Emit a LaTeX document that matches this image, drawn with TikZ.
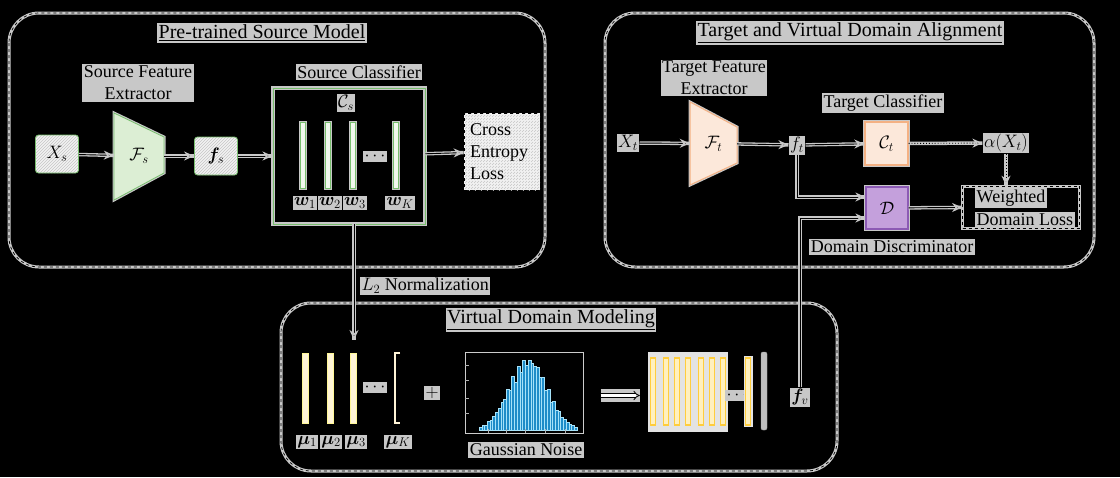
\RequirePackage{fix-cm}
\documentclass[tikz,border=0pt]{standalone}
\usepackage{fontspec}
\setmainfont{Liberation Serif}
\usepackage{bm}
\usetikzlibrary{arrows.meta,patterns,calc}
\definecolor{halo}{RGB}{200,200,200}
\definecolor{srcgreen}{RGB}{120,190,110}
\definecolor{srcfill}{RGB}{220,238,212}
\definecolor{tgtorange}{RGB}{244,177,131}
\definecolor{tgtfill}{RGB}{252,232,218}
\definecolor{dpurple}{RGB}{140,90,180}
\definecolor{dfill}{RGB}{196,160,220}
\definecolor{creambar}{RGB}{255,244,214}
\definecolor{yelbar}{RGB}{255,205,60}
\definecolor{yelfill}{RGB}{255,240,190}
\definecolor{histblue}{RGB}{30,140,200}
\tikzset{
  lbl/.style={fill=halo, inner sep=1.5pt, text=black, font=\fontsize{18}{22}\selectfont},
  ttl/.style={lbl, font=\fontsize{20}{24}\selectfont},
  region/.style={draw=black, dashed, line width=0.7pt, rounded corners=30pt,
     preaction={draw=halo, solid, line width=3pt}},
  arr/.style={-{Stealth[length=10pt,width=9pt,color=halo,fill=black,line width=1.5pt]}, line width=0.9pt, draw=black,
     preaction={draw=halo, solid, line width=3.5pt, -}},
  hatchbox/.style={preaction={fill=gray!10}, pattern=north east lines, pattern color=gray!45,
     font=\fontsize{18}{22}\selectfont},
  wbar/.style={draw=srcgreen, fill=srcfill!40!white, line width=1pt, preaction={draw=halo, line width=3pt}},
  mubar/.style={draw=creambar!70!yellow, fill=creambar, line width=0.8pt},
  ybar/.style={draw=yelbar, fill=yelfill, line width=1.2pt},
  mathlbl/.style={font=\fontsize{18}{22}\selectfont},
}
\begin{document}
\begin{tikzpicture}[x=1pt,y=-1pt]
\fill[black] (0,0) rectangle (1120,477);
\useasboundingbox (0,0) rectangle (1120,477);

% regions
\draw[region] (9,13) rectangle (545,267);
\draw[region] (605,13) rectangle (1094,267);
\draw[region] (281,303) rectangle (837,471);

\node[ttl] (t1) at (262,33) {\underline{Pre-trained Source Model}};
\node[ttl] (t2) at (850,33) {\underline{Target and Virtual Domain Alignment}};
\node[ttl] (t3) at (551,320) {\underline{Virtual Domain Modeling}};

% ---------------- source ----------------
\node[lbl, align=center] (sfe) at (138,83) {Source Feature\\Extractor};
\node[draw=srcgreen, line width=0.8pt, rounded corners=3pt, minimum width=43, minimum height=38, hatchbox] (Xs) at (57,154) {$X_s$};
\filldraw[draw=srcgreen, fill=srcfill, line width=0.8pt, preaction={draw=halo, line width=3pt}] (114,113) -- (164,137) -- (164,173) -- (114,200) -- cycle;
\node[mathlbl, minimum width=50, minimum height=36, inner sep=0] (Fs) at (139,156) {$\mathcal{F}_s$};
\node[draw=srcgreen, line width=0.8pt, rounded corners=3pt, minimum width=43, minimum height=38, hatchbox] (fs) at (216,156) {$\bm{f}_s$};
\node[lbl] (scl) at (359,72) {Source Classifier};
\node[draw=srcgreen, line width=0.9pt, minimum width=152, minimum height=136, inner sep=0, preaction={draw=halo, line width=4pt}] (cls) at (349,156) {};
\node[lbl] (Cs) at (346,103) {$\mathcal{C}_s$};
\foreach \x in {303,328,353,396} {\filldraw[wbar] (\x-2.5,122) rectangle (\x+2.5,188);}
\node[lbl] (cdots) at (375,156) {$\cdots$};
\node[lbl] (w1) at (305,203) {$\bm{w}_1$};
\node[lbl] (w2) at (330,203) {$\bm{w}_2$};
\node[lbl] (w3) at (355,203) {$\bm{w}_3$};
\node[lbl] (wK) at (400,203) {$\bm{w}_K$};
\node[draw=black, dashed, line width=0.7pt, minimum width=76, minimum height=77, align=left, text width=64, hatchbox] (cel) at (502,151.5) {Cross\\Entropy\\Loss};

\draw[arr] (Xs) -- (Fs);
\draw[arr] (Fs) -- (fs);
\draw[arr] (fs) -- (cls);
\draw[arr] (cls) -- (cel);

\coordinate (l2end) at (354,340);
\draw[arr] (cls.south -| l2end) -- (l2end);
\node[lbl, anchor=west] (l2) at (360,286) {$L_2$ Normalization};

% ---------------- target ----------------
\node[lbl, align=center] (tfe) at (714,78) {Target Feature\\Extractor};
\node[lbl] (Xt) at (628,143) {$X_t$};
\filldraw[draw=tgtorange, fill=tgtfill, line width=1pt, preaction={draw=halo, line width=3pt}] (690,102) -- (737,127) -- (737,163) -- (690,185) -- cycle;
\node[mathlbl, minimum width=47, minimum height=36, inner sep=0] (Ft) at (713.5,143.5) {$\mathcal{F}_t$};
\node[lbl] (ft) at (797,145) {$f_t$};
\node[lbl] (tcl) at (883,103) {Target Classifier};
\node[draw=tgtorange, fill=tgtfill, line width=1.2pt, minimum size=43, inner sep=0, mathlbl, preaction={draw=halo, line width=4pt}] (Ct) at (886.5,143.5) {$\mathcal{C}_t$};
\node[lbl] (alpha) at (1006,143) {$\alpha(X_t)$};
\node[draw=dpurple, fill=dfill, line width=1.2pt, minimum size=42, inner sep=0, mathlbl, preaction={draw=halo, line width=4pt}] (D) at (887,208) {$\mathcal{D}$};
\node[draw=black, dashed, line width=0.7pt, minimum width=117, minimum height=42, inner sep=0, preaction={draw=halo, solid, line width=3pt}] (wdl) at (1021,207) {};
\node[lbl, anchor=west] (wdl1) at (975,198) {Weighted};
\node[lbl, anchor=west] (wdl2) at (975,220) {Domain Loss};
\node[lbl] (ddl) at (892,247) {Domain Discriminator};

\draw[arr] (Xt) -- (Ft);
\draw[arr] (Ft) -- (ft);
\draw[arr] (ft) -- (Ct);
\draw[arr, dotted] (Ct) -- (alpha);
\draw[arr, dotted] (alpha.south) -- (alpha.south |- wdl.north);
\draw[arr] (D) -- (wdl);
\draw[arr] (ft.south) |- ([yshift=11pt]D.west);

% ---------------- virtual ----------------
\foreach \x in {305,330,353} {\filldraw[mubar] (\x-3,353) rectangle (\x+3,423);}
\draw[creambar, line width=2.5pt] (400,353) -- (395,353) -- (395,423) -- (400,423);
\node[lbl] (mdots) at (375,387) {$\cdots$};
\node[lbl] (mu1) at (307,442) {$\bm{\mu}_1$};
\node[lbl] (mu2) at (331,442) {$\bm{\mu}_2$};
\node[lbl] (mu3) at (356,442) {$\bm{\mu}_3$};
\node[lbl] (muK) at (398,442) {$\bm{\mu}_K$};
\node[lbl] (plus) at (432,393) {$+$};

\node[draw=gray!40, line width=1pt, minimum width=118, minimum height=81, inner sep=0] (gauss) at (524,392.5) {};
\foreach \i in {0,...,35} {
  \pgfmathsetmacro\t{(\i-17.5)/7}
  \pgfmathsetmacro\h{73*exp(-0.5*(\t)^2)*(0.8+0.2*abs(sin(\i*97)))}
  \pgfmathsetmacro\xa{479+\i*2.72}
  \filldraw[fill=histblue, draw=cyan!35!white, line width=0.3pt] (\xa,430) rectangle ({\xa+2.72},{430-\h});
}
\foreach \y in {365,380,398,413} {\draw[gray!60, line width=0.6pt] (465,\y) -- (469,\y);}
\foreach \x in {488,506,525,545,565} {\draw[gray!60, line width=0.6pt] (\x,433) -- (\x,429);}
\node[lbl] (gn) at (526,450) {Gaussian Noise};

\node[fill=gray!22, minimum width=80, minimum height=80, inner sep=0] (fvb) at (688,392) {};
\foreach \x in {653,666,677,688,701,712,723} {\filldraw[ybar] (\x-2.8,358) rectangle (\x+2.8,425);}
\node[lbl] (vdots) at (737,395) {$\cdots$};
\filldraw[ybar, preaction={draw=gray!22, line width=4pt}] (745.5,358) rectangle (750.5,425);
\filldraw[fill=gray!50, draw=gray!70, rounded corners=2pt] (761,352) rectangle (767,430);
\node[lbl] (fv) at (800,397) {$\bm{f}_v$};

\draw[-{Implies}, draw=black, double=white, double distance=2.5pt, line width=0.8pt, shorten <=17pt, shorten >=8pt,
  preaction={draw=halo, line width=13pt, -}]
  ([yshift=-3pt]gauss.east) -- ([yshift=-3pt]gauss.east -| fvb.west);

\draw[arr] (fv.north) |- ([yshift=-10pt]D.west);
\end{tikzpicture}
\end{document}
